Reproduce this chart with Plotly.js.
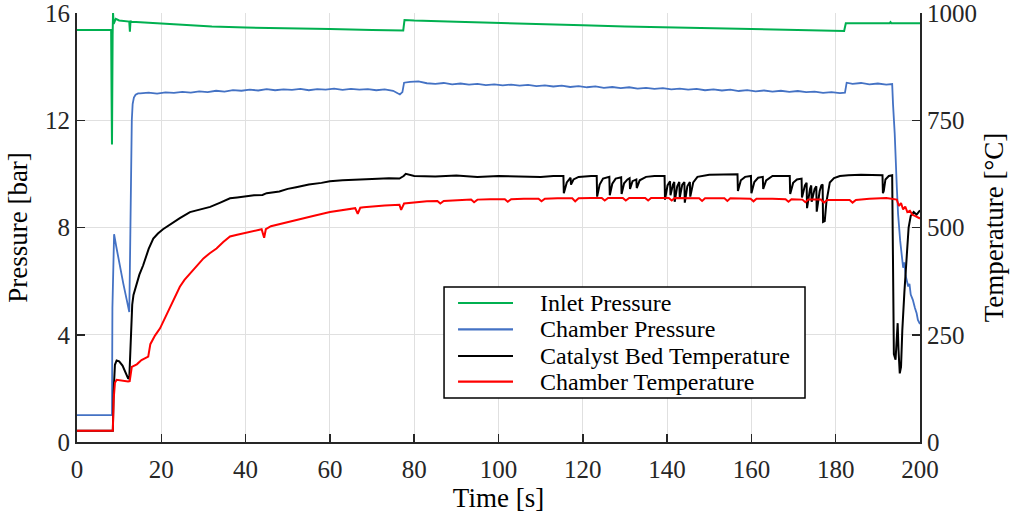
<!DOCTYPE html>
<html>
<head>
<meta charset="utf-8">
<script src="https://cdn.plot.ly/plotly-3.0.1.min.js"></script>
<style>html,body{margin:0;padding:0;background:#fff;}#chart{width:1011px;height:518px;}</style>
</head>
<body>
<div id="chart"></div>
<script>
// [time s, pressure bar]
const inletPressure = [[0,15.37],[8.1,15.37],[8.2,13.0],[8.3,11.1],[8.45,15.2],[8.55,16.0],[8.7,15.6],[9.2,15.78],[10,15.72],[11,15.7],[12.4,15.68],[12.55,15.3],[12.7,15.72],[12.85,15.66],[14,15.66],[18,15.62],[25,15.56],[32,15.5],[40,15.46],[50,15.42],[60,15.4],[70,15.37],[77.4,15.35],[77.7,15.74],[80,15.72],[90,15.67],[100,15.62],[110,15.58],[120,15.54],[130,15.5],[140,15.47],[150,15.44],[160,15.41],[170,15.38],[182.0,15.33],[182.4,15.62],[186,15.62],[192.8,15.62],[193.0,15.66],[193.2,15.62],[200,15.62]];

const chamberPressure = [[0,1.0],[8.3,1.0],[8.4,5.0],[8.8,7.75],[9.3,7.3],[10.2,6.5],[11.0,5.9],[11.8,5.3],[12.4,4.85],[12.55,6.5],[12.7,9.0],[12.85,11.0],[13.0,12.0],[13.2,12.6],[13.5,12.85],[13.9,12.95],[14.5,13.0],
[15,13.0],[17,13.03],[19,12.99],[21,13.04],[23,13.02],[25,13.06],[27,13.03],[29,13.08],[31,13.05],[33,13.1],[35,13.07],[37,13.12],[39,13.1],[41,13.14],[43,13.11],[45,13.16],[47,13.12],[49,13.15],[51,13.13],[53,13.17],[55,13.12],[57,13.16],[59,13.14],[61,13.18],[63,13.13],[65,13.17],[67,13.14],[69,13.16],[71,13.12],[73,13.15],[75,13.1],[76.6,12.96],[77.2,13.05],
[77.6,13.4],[79,13.43],[81,13.45],[83,13.38],[85,13.36],[87,13.39],[89,13.34],[91,13.37],[93,13.33],[95,13.36],[97,13.31],[99,13.34],[101,13.3],[103,13.33],[105,13.29],[107,13.32],[109,13.27],[111,13.3],[113,13.26],[115,13.29],[117,13.24],[119,13.27],[121,13.23],[123,13.26],[125,13.21],[127,13.24],[129,13.2],[131,13.23],[133,13.18],[135,13.21],[137,13.17],[139,13.2],[141,13.15],[143,13.18],[145,13.14],[147,13.17],[149,13.12],[151,13.15],[153,13.11],[155,13.14],[157,13.09],[159,13.12],[161,13.08],[163,13.11],[165,13.07],[167,13.1],[169,13.06],[171,13.09],[173,13.05],[175,13.07],[177,13.02],[179,13.05],[181,13.01],[182.2,13.03],
[182.6,13.4],[184,13.36],[186,13.39],[188,13.34],[190,13.37],[192,13.33],[193.4,13.35],
[193.6,12.6],[194.0,11.5],[194.5,9.5],[194.8,8.5],[195.3,7.5],[195.7,7.0],[196.0,6.5],[196.3,6.7],[196.6,6.2],[197.2,5.8],[197.5,5.9],[197.8,5.5],[198.3,5.3],[198.8,5.0],[199.2,4.8],[199.5,4.55],[200,4.4]];

// [time s, temperature °C]
const catalystBedTemperature = [[0,26],[8.5,26],[8.7,120],[9.0,180],[9.4,190],[10.0,188],[10.8,178],[11.5,160],[12.1,149],[12.4,148],[12.6,200],[12.8,280],[13.1,320],[13.4,343],[14.0,365],[14.8,390],[15.7,412],[17.0,450],[18.1,474],[19.2,486],[20.4,496],[22.0,507],[24.4,522],[26.8,536],[28.5,540],[31.6,548],[34.0,558],[36.3,568],[38,570],[40,573],[42,575],[44,576],[45,580],[48,584],[50,590],[52,594],[55,600],[58,604],[60,608],[63,610],[66,612],[70,613],[74,615],[76.5,614],[77.5,620],[78,625],[80,620],[85,619],[90,621],[95,618],[100,620],[105,619],[110,618],[113,620],
[115.4,620],[115.5,580],[116.2,605],[117.1,616],[117.2,600],[117.8,612],[119,618],[122,620],[123.3,620],[123.4,572],[124.0,600],[124.8,614],[126.3,618],[126.4,575],[127.0,602],[127.8,614],[129.1,617],[129.2,578],[129.8,603],[130.6,612],[131.1,615],[131.2,590],[131.8,608],[132.7,612],[132.8,592],[133.5,610],[135,618],[137,620],
[139.4,620],[139.5,565],[140.1,598],[140.7,608],[140.8,575],[141.4,600],[141.7,606],[141.8,560],[142.4,596],[142.9,606],[143.0,570],[143.6,600],[144.1,606],[144.2,558],[144.8,596],[145.4,606],[145.5,572],[146.2,605],[147.2,618],[150,623],[153,624],
[156.7,624],[156.8,585],[157.5,610],[158.5,618],[159.9,620],[160.0,580],[160.7,606],[161.6,616],[162.7,618],[162.8,590],[163.5,610],[165,620],[168,621],
[169.1,620],[169.2,578],[169.9,604],[170.8,612],[171.9,614],[172.0,570],[172.7,598],[173.1,604],[173.2,545],[173.9,590],[174.2,598],[174.3,560],[175.0,590],[175.4,596],[175.5,537],[176.2,585],[176.6,598],[176.9,600],[177.0,513],[177.4,515],[177.8,560],[178.6,605],[179.6,615],[181,620],[183,622],[186,623],[189,622],
[191.1,622],[191.2,580],[191.4,585],[191.8,612],[192.6,620],[193.4,622],
[193.6,380],[193.8,205],[194.2,192],[194.5,230],[194.7,277],[194.9,215],[195.2,160],[195.5,175],[195.8,260],[196.3,350],[196.8,440],[197.3,500],[197.8,527],[198.5,536],[199.2,530],[200,540]];

const chamberTemperature = [[0,26],[8.5,26],[8.7,100],[9.0,138],[9.4,145],[10.5,143],[11.5,142],[12.1,141],[12.5,142],[12.7,160],[13.0,175],[14.2,181],[15.3,191],[16.1,195],[16.9,199],[17.4,228],[18.5,248],[19.7,265],[21,292],[22,316],[23.2,340],[24.4,362],[25.5,378],[26.8,393],[28.4,412],[30,428],[31.5,440],[33.1,451],[34.7,466],[36.3,479],[38,483],[40,487],[42,492],[43.8,496],[44.4,476],[44.8,496],[46,503],[48,508],[50,513],[53,520],[56,527],[60,536],[63,541],[66,545],[66.6,532],[67.2,546],[68,547],[70,548],[73,551],[76.5,553],[76.9,541],[77.6,556],[80,559],[83,561],
[85.5,562],[86.2,556],[87,562],[90,564],[93.5,565],[94.2,559],[95,565],[98,566],[101.5,566],[102.2,560],[103,566],[106,567],[109.5,567],[110.2,561],[111,567],[114,568],[117.5,568],[118.2,561],[119,568],[122,569],[124.5,569],[125.2,563],[126,569],[129.5,569],[130.2,563],[131,569],[134.8,569],[135.5,563],[136.2,569],[140.4,569],[141.1,563],[141.8,569],[145,569],[147.6,568],[148.3,562],[149,568],[153.6,568],[154.3,562],[155,568],[159.8,567],[160.5,561],[161.2,567],[165,567],[168.1,566],[168.8,560],[169.5,566],[172.1,565],[172.8,559],[173.5,565],[176.5,565],[177.2,558],[178,564],[181,564],[183.3,564],[184,558],[184.8,564],[188,567],[192,569],
[194.5,565],[195.0,550],[195.5,557],[196.0,542],[196.5,549],[197.0,536],[197.6,539],[198.2,530],[198.8,527],[199.4,524],[200,521]];

const seriesNames = ['Inlet Pressure','Chamber Pressure','Catalyst Bed Temperature','Chamber Temperature'];
const seriesColors = ['#00b050','#4472c4','#000000','#ff0000'];
const xTicks = [0,20,40,60,80,100,120,140,160,180,200];
const yTicks = [0,4,8,12,16];
const y2Ticks = [0,250,500,750,1000];

const col = (arr, i) => arr.map(p => p[i]);
const FONT = '"Liberation Serif", "Times New Roman", Times, serif';
const INK = '#262626';

const traces = [
  {x: col(inletPressure,0), y: col(inletPressure,1), name: seriesNames[0], yaxis: 'y', line: {color: seriesColors[0], width: 2}},
  {x: col(chamberPressure,0), y: col(chamberPressure,1), name: seriesNames[1], yaxis: 'y', line: {color: seriesColors[1], width: 1.8}},
  {x: col(catalystBedTemperature,0), y: col(catalystBedTemperature,1), name: seriesNames[2], yaxis: 'y2', line: {color: seriesColors[2], width: 2}},
  {x: col(chamberTemperature,0), y: col(chamberTemperature,1), name: seriesNames[3], yaxis: 'y2', line: {color: seriesColors[3], width: 2}}
].map(t => Object.assign({type: 'scatter', mode: 'lines', hoverinfo: 'skip', showlegend: false, cliponaxis: true}, t));

// legend box geometry (paper coordinates)
const LEG = {x0: 0.4354, x1: 0.8636, y0: 0.1026, y1: 0.3613, lineX0: 0.452, lineX1: 0.5172, textX: 0.5469, rows: [0.324, 0.2627, 0.2005, 0.1406]};
const shapes = [{type: 'rect', xref: 'paper', yref: 'paper', x0: LEG.x0, x1: LEG.x1, y0: LEG.y0, y1: LEG.y1, fillcolor: '#fff', line: {color: '#000', width: 1.5}, layer: 'above'}];
const annotations = [];
seriesNames.forEach((n, i) => {
  shapes.push({type: 'line', xref: 'paper', yref: 'paper', x0: LEG.lineX0, x1: LEG.lineX1, y0: LEG.rows[i], y1: LEG.rows[i], line: {color: seriesColors[i], width: 2.2}, layer: 'above'});
  annotations.push({xref: 'paper', yref: 'paper', x: LEG.textX, y: LEG.rows[i], xanchor: 'left', yanchor: 'middle', text: n, showarrow: false, font: {family: FONT, size: 24, color: '#000'}});
});

const axisCommon = {
  showline: true, linecolor: INK, linewidth: 2,
  ticks: 'inside', ticklen: 8, tickwidth: 1.5, tickcolor: INK,
  zeroline: false, ticklabeloverflow: 'allow',
  tickfont: {family: FONT, size: 25, color: INK}
};
const titleFont = {family: FONT, size: 27, color: '#000'};

const layout = {
  width: 1011, height: 518,
  margin: {l: 77, r: 91, t: 13, b: 76},
  paper_bgcolor: '#fff', plot_bgcolor: '#fff',
  font: {family: FONT, color: INK},
  showlegend: false,
  xaxis: Object.assign({}, axisCommon, {
    range: [0, 200], tickvals: xTicks, showgrid: true, gridcolor: '#e0e0e0', gridwidth: 1, ticklabelstandoff: 4,
    title: {text: 'Time [s]', font: titleFont, standoff: 2}
  }),
  yaxis: Object.assign({}, axisCommon, {
    range: [0, 16], tickvals: yTicks, showgrid: true, gridcolor: '#e0e0e0', gridwidth: 1,
    title: {text: 'Pressure [bar]', font: titleFont, standoff: 10}
  }),
  yaxis2: Object.assign({}, axisCommon, {
    range: [0, 1000], tickvals: y2Ticks, overlaying: 'y', side: 'right', showgrid: false,
    title: {text: 'Temperature [°C]', font: titleFont, standoff: 8}
  }),
  shapes: shapes,
  annotations: annotations
};

Plotly.newPlot('chart', traces, layout, {staticPlot: true, displayModeBar: false});
</script>
</body>
</html>
